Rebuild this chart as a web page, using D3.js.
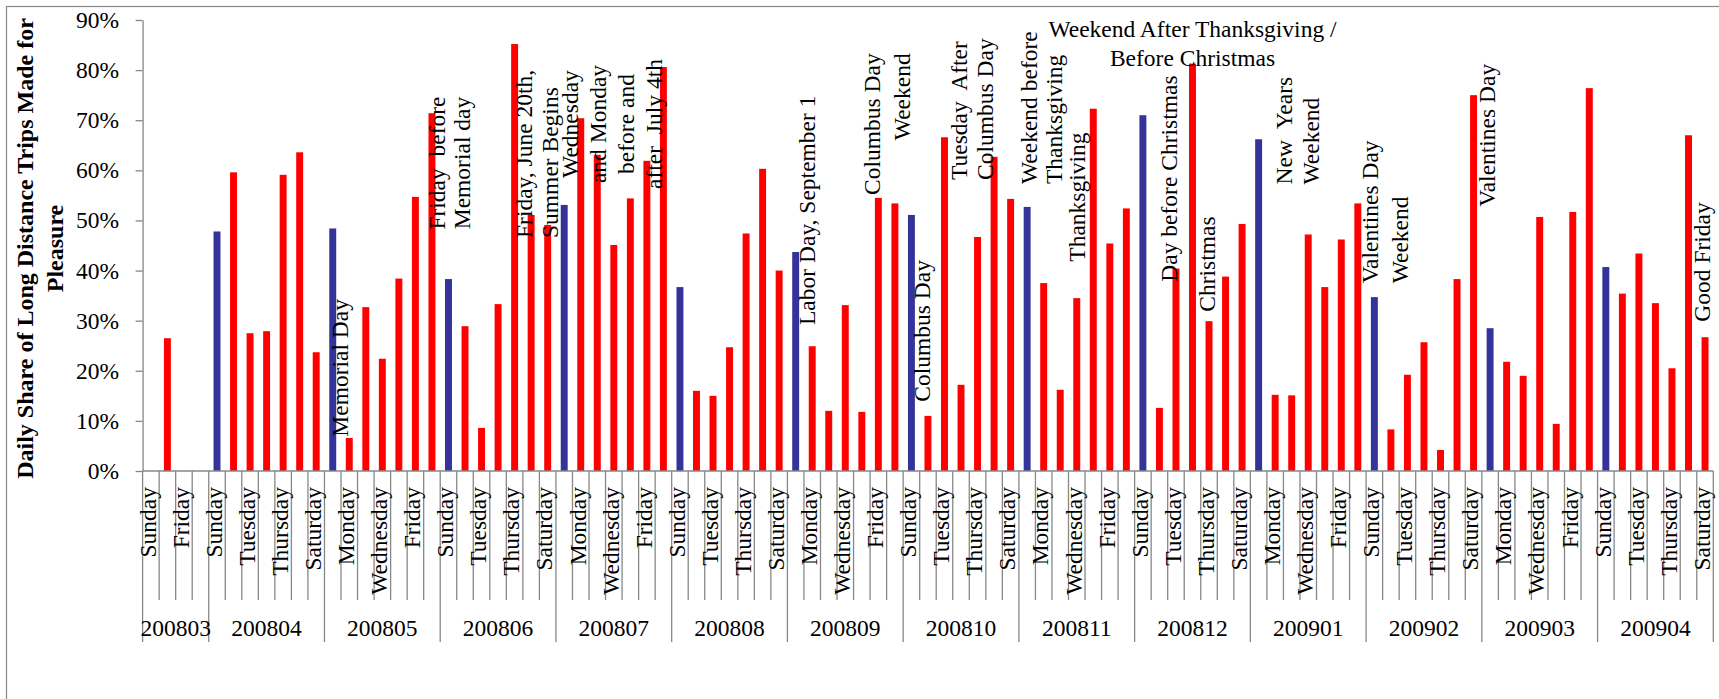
<!DOCTYPE html>
<html>
<head>
<meta charset="utf-8">
<script src="https://cdn.jsdelivr.net/npm/d3@7"></script>
<style>
html,body{margin:0;padding:0;background:#fff;}
svg{display:block;font-family:"Liberation Serif","Times New Roman",Times,serif;}
text{white-space:pre;}
</style>
</head>
<body>
<svg id="chart" width="1719" height="699"></svg>
<script>
// ---------------- DATA ----------------
const months = ["200803","200804","200805","200806","200807","200808","200809",
                "200810","200811","200812","200901","200902","200903","200904"];
const weekDays = ["Sunday","Monday","Tuesday","Wednesday","Thursday","Friday","Saturday"];
const march2008Days = ["Sunday","Monday","Friday","Saturday"];

// Daily share of long distance trips made for pleasure (%), by weekday within month
const v200803 = [null, 26.5, null, null];
const v200804 = [47.8, 59.6, 27.5, 27.9, 59.1, 63.6, 23.7];
const v200805 = [48.4, 6.6, 32.7, 22.4, 38.4, 54.7, 71.4];
const v200806 = [38.3, 28.9, 8.6, 33.3, 85.2, 51.1, 49.1];
const v200807 = [53.1, 70.4, 63.1, 45.1, 54.4, 61.9, 80.6];
const v200808 = [36.7, 16.0, 15.0, 24.7, 47.4, 60.3, 40.0];
const v200809 = [43.7, 24.9, 12.0, 33.1, 11.8, 54.5, 53.4];
const v200810 = [51.1, 11.0, 66.6, 17.2, 46.7, 62.7, 54.3];
const v200811 = [52.7, 37.5, 16.2, 34.5, 72.3, 45.4, 52.4];
const v200812 = [71.0, 12.6, 40.4, 81.3, 29.9, 38.8, 49.3];
const v200901 = [66.2, 15.2, 15.1, 47.2, 36.7, 46.2, 53.4];
const v200902 = [34.7, 8.3, 19.2, 25.7, 4.2, 38.3, 75.0];
const v200903 = [28.5, 21.8, 19.0, 50.7, 9.4, 51.7, 76.4];
const v200904 = [40.7, 35.4, 43.4, 33.5, 20.5, 67.0, 26.7];

const monthValues = [v200803,v200804,v200805,v200806,v200807,v200808,v200809,
                     v200810,v200811,v200812,v200901,v200902,v200903,v200904];

const yTicks = [0,10,20,30,40,50,60,70,80,90];
const yTitleLines = ["Daily Share of Long Distance Trips Made for","Pleasure"];

// annotation text boxes (placement on the page)
const annotations = [
  {lines:["Memorial Day"], x:348, y:436.7, anchor:"start"},
  {lines:["Friday  before","Memorial day"], x:445, y:163, anchor:"middle", gap:25},
  {lines:["Friday, June 20th,","Summer Begins"], x:532, y:238, anchor:"start", gap:26},
  {lines:["Wednesday","and Monday","before and","after  July 4th"], x:578, y:124, anchor:"middle", gap:28},
  {lines:["Labor Day, September 1"], x:815, y:325, anchor:"start"},
  {lines:["Columbus Day","Weekend"], x:880, y:53.3, anchor:"end", gap:30},
  {lines:["Columbus Day"], x:930, y:401.7, anchor:"start"},
  {lines:["Tuesday  After","Columbus Day"], x:966.7, y:180, anchor:"start", gap:26.6},
  {lines:["Weekend before","Thanksgiving"], x:1036.7, y:184, anchor:"start", gap:25},
  {lines:["Thanksgiving"], x:1085, y:261.7, anchor:"start"},
  {lines:["Day before Christmas"], x:1176.7, y:281.7, anchor:"start"},
  {lines:["Christmas"], x:1215, y:311.7, anchor:"start"},
  {lines:["New  Years","Weekend"], x:1291.7, y:184.5, anchor:"start", gap:27.6},
  {lines:["Valentines Day","Weekend"], x:1377.7, y:283.3, anchor:"start", gap:30.6},
  {lines:["Valentines Day"], x:1495, y:206.7, anchor:"start"},
  {lines:["Good Friday"], x:1710, y:321.7, anchor:"start"}
];
const hAnnotation = {lines:["Weekend After Thanksgiving /","Before Christmas"], x:1192.5, y:37, gap:29};

// ---------------- BUILD ----------------
const cats = [];
months.forEach((m, mi) => {
  const days = mi === 0 ? march2008Days : weekDays;
  days.forEach((d, di) => {
    cats.push({month:m, day:d, value:monthValues[mi][di], first:di===0, last:di===days.length-1});
  });
});
const n = cats.length;

const FS = 23.5;
const axisColor = "#878787";
const svg = d3.select("#chart");

const plotLeft = 142.6, plotRight = 1713.3, plotTop = 20, plotBottom = 471;

const x = d3.scaleBand().domain(d3.range(n)).range([plotLeft, plotRight]).paddingInner(0).paddingOuter(0);
const bw = x.bandwidth();
const barW = bw * 0.42;
const y = d3.scaleLinear().domain([0, 90]).range([plotBottom, plotTop]);

// outer frame
svg.append("rect").attr("x",6.5).attr("y",6.5).attr("width",1800).attr("height",900)
  .attr("fill","none").attr("stroke",axisColor).attr("stroke-width",1.2);

// bars
svg.append("g").selectAll("rect")
  .data(cats.map((c,i)=>({...c,i})).filter(c=>c.value!=null))
  .join("rect")
  .attr("x", d => x(d.i) + (bw - barW)/2)
  .attr("width", barW)
  .attr("y", d => y(d.value))
  .attr("height", d => y(0) - y(d.value))
  .attr("fill", d => d.day === "Sunday" ? "#333399" : "#FF0000");

// y axis
const yAxis = d3.axisLeft(y).tickValues(yTicks).tickFormat(d => d + "%")
  .tickSize(7).tickSizeOuter(0).tickPadding(16.5);
const gy = svg.append("g").attr("transform", `translate(${plotLeft},0)`).call(yAxis);
gy.selectAll("path,line").attr("stroke", axisColor).attr("stroke-width",1.3);
gy.selectAll("text").attr("font-size", FS).attr("fill","#000")
  .attr("font-family",'"Liberation Serif","Times New Roman",serif');

// x axis line
const gx = svg.append("g");
gx.append("line").attr("x1",plotLeft).attr("x2",plotRight).attr("y1",plotBottom).attr("y2",plotBottom)
  .attr("stroke",axisColor).attr("stroke-width",1.3);
// category separators
const bounds = d3.range(n+1).map(i => ({
  pos: i < n ? x(i) : plotRight,
  long: i === 0 || i === n || cats[i].first
}));
gx.selectAll("line.sep").data(bounds).join("line").attr("class","sep")
  .attr("x1", d => d.pos).attr("x2", d => d.pos)
  .attr("y1", plotBottom).attr("y2", d => d.long ? 642 : 600)
  .attr("stroke", axisColor).attr("stroke-width",1.3);
// day labels (every other category)
gx.selectAll("text.day").data(cats.map((c,i)=>({...c,i})).filter(c => c.i % 2 === 0))
  .join("text").attr("class","day")
  .attr("transform", d => `translate(${x(d.i) + bw/2 + 4.8},487) rotate(-90)`)
  .attr("text-anchor","end").attr("font-size",FS).attr("fill","#000")
  .text(d => d.day);
// month labels
const monthSpans = months.map(m => {
  const idx = cats.map((c,i)=>c.month===m?i:-1).filter(i=>i>=0);
  return {m, x0: x(idx[0]), x1: x(idx[idx.length-1]) + bw};
});
gx.selectAll("text.month").data(monthSpans).join("text").attr("class","month")
  .attr("x", d => (d.x0 + d.x1)/2).attr("y", 635.5)
  .attr("text-anchor","middle").attr("font-size",FS).attr("fill","#000")
  .text(d => d.m);

// y title
const yt = svg.append("text")
  .attr("transform","translate(33,248.5) rotate(-90)")
  .attr("text-anchor","middle").attr("font-weight","bold").attr("font-size",24).attr("fill","#000");
yTitleLines.forEach((l,i) => yt.append("tspan").attr("x",0).attr("dy", i===0?0:30).text(l));

// rotated annotations
const ga = svg.append("g");
annotations.forEach(a => {
  const t = ga.append("text")
    .attr("transform", `translate(${a.x},${a.y}) rotate(-90)`)
    .attr("text-anchor", a.anchor).attr("font-size", FS).attr("fill","#000");
  a.lines.forEach((l,i) => t.append("tspan").attr("x",0).attr("dy", i===0?0:a.gap).text(l));
});
// horizontal annotation
const ht = ga.append("text").attr("text-anchor","middle").attr("font-size",FS).attr("fill","#000");
hAnnotation.lines.forEach((l,i) => ht.append("tspan").attr("x",hAnnotation.x)
  .attr("y", hAnnotation.y + i*hAnnotation.gap).text(l));
</script>
</body>
</html>
